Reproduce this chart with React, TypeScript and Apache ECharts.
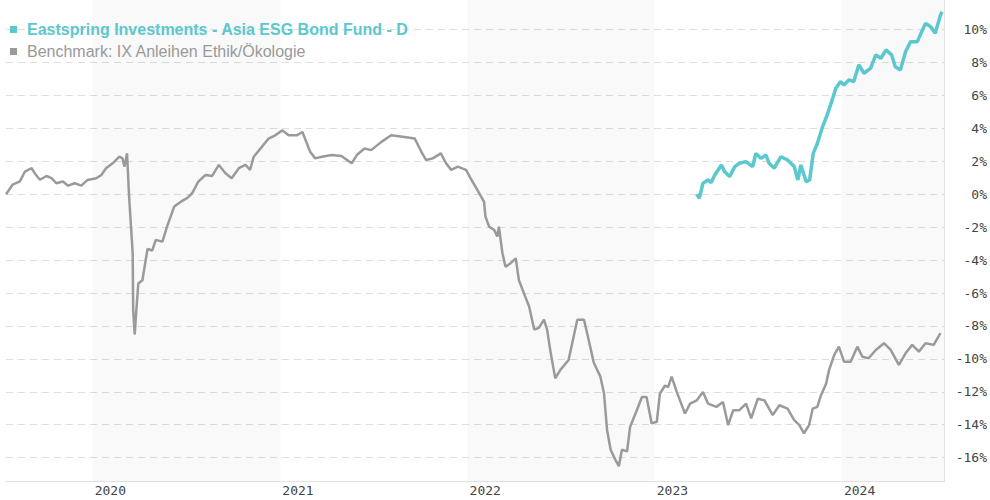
import React, { useEffect, useRef } from "react";
import * as echarts from "echarts";

const fundName = "Eastspring Investments - Asia ESG Bond Fund - D";
const benchName = "Benchmark: IX Anleihen Ethik/Ökologie";

const benchDates = [
  "2019-07-16", "2019-07-29", "2019-08-12", "2019-08-22", "2019-09-04", "2019-09-10", "2019-09-20", "2019-10-03",
  "2019-10-13", "2019-10-22", "2019-11-04", "2019-11-14", "2019-11-27", "2019-12-10", "2019-12-22", "2020-01-08",
  "2020-01-18", "2020-01-27", "2020-02-09", "2020-02-22", "2020-02-28", "2020-03-03", "2020-03-08", "2020-03-12",
  "2020-03-19", "2020-03-20", "2020-03-23", "2020-03-26", "2020-03-30", "2020-04-07", "2020-04-17", "2020-04-26",
  "2020-05-03", "2020-05-16", "2020-05-25", "2020-06-08", "2020-06-21", "2020-07-03", "2020-07-13", "2020-07-25",
  "2020-08-08", "2020-08-21", "2020-09-03", "2020-09-16", "2020-09-28", "2020-10-12", "2020-10-25", "2020-11-03",
  "2020-11-10", "2020-11-26", "2020-12-09", "2020-12-22", "2021-01-05", "2021-01-17", "2021-02-02", "2021-02-13",
  "2021-02-28", "2021-03-10", "2021-03-23", "2021-04-11", "2021-04-30", "2021-05-20", "2021-05-30", "2021-06-14",
  "2021-06-27", "2021-07-17", "2021-08-05", "2021-08-31", "2021-09-20", "2021-10-03", "2021-10-12", "2021-10-25",
  "2021-11-10", "2021-11-20", "2021-11-30", "2021-12-13", "2021-12-29", "2022-01-07", "2022-01-20", "2022-02-02",
  "2022-02-05", "2022-02-12", "2022-02-22", "2022-02-28", "2022-03-03", "2022-03-10", "2022-03-16", "2022-03-26",
  "2022-04-05", "2022-04-11", "2022-04-21", "2022-05-01", "2022-05-11", "2022-05-20", "2022-05-30", "2022-06-05",
  "2022-06-12", "2022-06-21", "2022-07-01", "2022-07-17", "2022-07-27", "2022-08-03", "2022-08-16", "2022-08-25",
  "2022-09-04", "2022-09-17", "2022-09-24", "2022-09-30", "2022-10-07", "2022-10-16", "2022-10-23", "2022-10-29",
  "2022-11-08", "2022-11-14", "2022-11-27", "2022-12-07", "2022-12-16", "2022-12-26", "2023-01-05", "2023-01-11",
  "2023-01-21", "2023-01-27", "2023-02-03", "2023-02-13", "2023-03-01", "2023-03-11", "2023-03-24", "2023-04-05",
  "2023-04-15", "2023-05-01", "2023-05-14", "2023-05-24", "2023-06-03", "2023-06-15", "2023-06-28", "2023-07-08",
  "2023-07-21", "2023-08-03", "2023-08-19", "2023-09-01", "2023-09-17", "2023-09-30", "2023-10-10", "2023-10-19",
  "2023-10-29", "2023-11-05", "2023-11-14", "2023-11-21", "2023-12-01", "2023-12-07", "2023-12-17", "2023-12-26",
  "2024-01-05", "2024-01-18", "2024-01-31", "2024-02-10", "2024-02-22", "2024-03-07", "2024-03-23", "2024-04-05",
  "2024-04-21", "2024-05-04", "2024-05-17", "2024-05-30", "2024-06-12", "2024-06-28", "2024-07-11",
];

const benchValues = [
  0, 0.58, 0.78, 1.38, 1.58, 1.28, 0.88, 1.11,
  0.98, 0.67, 0.77, 0.52, 0.67, 0.52, 0.87, 0.97,
  1.17, 1.58, 1.88, 2.28, 2.18, 1.68, 2.48, -0.12,
  -3.57, -7.02, -8.52, -7.12, -5.42, -5.22, -3.32, -3.42,
  -2.77, -2.88, -1.97, -0.75, -0.45, -0.24, 0.06, 0.77,
  1.17, 1.11, 1.78, 1.28, 0.97, 1.58, 1.78, 1.48,
  2.28, 2.88, 3.38, 3.58, 3.88, 3.58, 3.58, 3.78,
  2.58, 2.18, 2.28, 2.38, 2.33, 1.88, 2.38, 2.78,
  2.68, 3.18, 3.58, 3.48, 3.38, 2.58, 2.08, 2.18,
  2.48, 1.88, 1.48, 1.68, 1.48, 0.97, 0.26, -0.45,
  -1.36, -1.97, -2.17, -2.57, -1.97, -3.58, -4.4, -4.19,
  -3.89, -5.21, -6.02, -6.82, -8.22, -8.12, -7.62, -8.22,
  -9.62, -11.18, -10.67, -10.07, -8.62, -7.62, -7.62, -8.82,
  -10.22, -11.08, -12.09, -14.32, -15.52, -16.12, -16.52, -15.52,
  -15.62, -14.12, -13.12, -12.32, -12.32, -13.92, -13.82, -12.12,
  -11.62, -11.72, -11.08, -12.02, -13.32, -12.72, -12.52, -12.02,
  -12.72, -12.92, -12.62, -14.02, -13.12, -13.12, -12.72, -13.62,
  -12.42, -12.52, -13.42, -12.82, -13.02, -13.72, -14.02, -14.52,
  -14.02, -13.02, -12.92, -12.22, -11.52, -10.67, -9.76, -9.26,
  -10.17, -10.17, -9.26, -9.87, -9.96, -9.46, -9.05, -9.46,
  -10.37, -9.66, -9.15, -9.56, -9.05, -9.15, -8.44,
];

const fundDates = [
  "2023-03-24", "2023-03-29", "2023-04-05", "2023-04-15", "2023-04-21", "2023-04-28", "2023-05-11", "2023-05-17",
  "2023-05-27", "2023-06-06", "2023-06-15", "2023-06-28", "2023-07-11", "2023-07-17", "2023-07-27", "2023-08-06",
  "2023-08-12", "2023-08-22", "2023-09-04", "2023-09-17", "2023-09-30", "2023-10-07", "2023-10-13", "2023-10-23",
  "2023-10-30", "2023-11-06", "2023-11-14", "2023-11-24", "2023-12-04", "2023-12-13", "2023-12-20", "2023-12-29",
  "2024-01-05", "2024-01-15", "2024-01-24", "2024-02-03", "2024-02-13", "2024-02-26", "2024-03-07", "2024-03-17",
  "2024-03-27", "2024-04-07", "2024-04-14", "2024-04-24", "2024-05-04", "2024-05-14", "2024-05-27", "2024-06-06",
  "2024-06-12", "2024-06-22", "2024-07-01", "2024-07-11", "2024-07-14",
];

const fundValues = [
  0, -0.24, 0.67, 0.87, 0.71, 1.17, 1.78, 1.38,
  1.07, 1.68, 1.88, 1.98, 1.68, 2.48, 2.18, 2.38,
  1.88, 1.58, 2.28, 2.08, 1.68, 0.87, 1.78, 0.77,
  0.87, 2.48, 3.08, 4.08, 4.88, 5.73, 6.44, 6.84,
  6.64, 6.95, 6.84, 7.86, 7.35, 7.66, 8.46, 8.26,
  8.77, 8.46, 7.75, 7.55, 8.66, 9.27, 9.27, 9.98,
  10.38, 10.18, 9.78, 10.88, 11.08,
];

const shadedYears = [
  ["2020-01-01", "2021-01-01"],
  ["2022-01-01", "2023-01-01"],
  ["2024-01-01", "2024-07-18"],
];

const xMin = "2019-07-16";
const xMax = "2024-07-18";
const yMin = -17.45;
const yMax = 11.8;
const yStep = 2;

const fundColor = "#5BC8CF";
const benchColor = "#9a9a9a";

export default function App() {
  const ref = useRef<HTMLDivElement>(null);

  useEffect(() => {
    if (!ref.current) return;
    const chart = echarts.init(ref.current, undefined, { renderer: "svg" });
    const labelFont = "'DejaVu Sans Mono', monospace";

    chart.setOption({
      animation: false,
      backgroundColor: "#ffffff",
      grid: { left: 6, right: 42, top: 0, bottom: 18.5, containLabel: false },
      legend: {
        orient: "vertical",
        left: 10,
        top: 21.5,
        padding: 0,
        icon: "rect",
        itemWidth: 7,
        itemHeight: 7,
        itemGap: 6,
        selectedMode: false,
        textStyle: {
          fontFamily: "'Liberation Sans', Arial, sans-serif",
          fontSize: 16,
          lineHeight: 16,
          padding: [0, 0, 0, 5],
        },
        data: [
          { name: fundName, textStyle: { color: fundColor, fontWeight: "bold" } },
          { name: benchName, textStyle: { color: "#999999", fontWeight: "normal" } },
        ],
      },
      xAxis: {
        type: "time",
        min: xMin,
        max: xMax,
        axisLine: { show: true, onZero: false, lineStyle: { color: "#e3e3e3", width: 1 } },
        axisTick: { show: false },
        splitLine: { show: false },
        axisLabel: {
          color: "#444444",
          fontFamily: labelFont,
          fontSize: 13,
          margin: 2,
          align: "left",
          padding: [0, 0, 0, 2],
          hideOverlap: false,
          formatter: (val: number) => {
            const d = new Date(val);
            return d.getMonth() === 0 && d.getDate() === 1 ? String(d.getFullYear()) : "";
          },
        },
      },
      yAxis: {
        type: "value",
        position: "right",
        min: yMin,
        max: yMax,
        minInterval: yStep,
        maxInterval: yStep,
        splitNumber: 14,
        axisLine: { show: true, lineStyle: { color: "#e3e3e3", width: 1 } },
        axisTick: { show: false },
        axisLabel: {
          showMinLabel: false,
          showMaxLabel: false,
          color: "#444444",
          fontFamily: labelFont,
          fontSize: 13,
          align: "right",
          margin: 43,
          formatter: "{value}%",
        },
        splitLine: {
          show: true,
          showMinLine: false,
          showMaxLine: false,
          lineStyle: { color: "#dedede", type: [7, 5], width: 1 },
        },
      },
      series: [
        {
          name: benchName,
          type: "line",
          data: benchDates.map((d, i) => [d, benchValues[i]]),
          showSymbol: false,
          symbol: "none",
          z: 3,
          lineStyle: { color: benchColor, width: 2.5 },
          itemStyle: { color: benchColor },
          markArea: {
            silent: true,
            itemStyle: { color: "rgba(0,0,0,0.022)" },
            data: shadedYears.map(([a, b]) => [{ xAxis: a }, { xAxis: b }]),
          },
        },
        {
          name: fundName,
          type: "line",
          data: fundDates.map((d, i) => [d, fundValues[i]]),
          showSymbol: false,
          symbol: "none",
          z: 4,
          lineStyle: { color: fundColor, width: 3.5 },
          itemStyle: { color: fundColor },
        },
      ],
    });

    return () => chart.dispose();
  }, []);

  return (
    <div
      ref={ref}
      style={{ position: "fixed", left: 0, top: 0, width: 990, height: 500 }}
    />
  );
}
